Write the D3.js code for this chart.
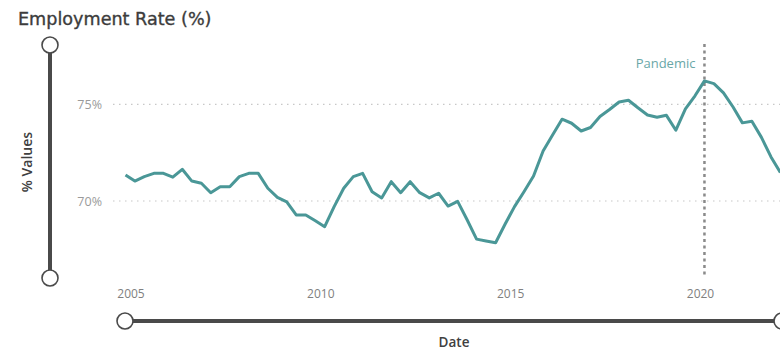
<!DOCTYPE html>
<html>
<head>
<meta charset="utf-8">
<script src="https://cdn.jsdelivr.net/npm/d3@7"></script>
<style>
  html, body { margin: 0; padding: 0; background: #fff; overflow: hidden; }
  svg { display: block; }
</style>
</head>
<body>
<svg id="chart" width="780" height="351"></svg>
<script>
// Quarterly employment rate, starting 2005 Q1
const startYear = 2005;
const rates = [
  71.35, 71.03, 71.26, 71.43, 71.43, 71.23, 71.64, 71.03,
  70.92, 70.43, 70.74, 70.74, 71.26, 71.43, 71.43, 70.66,
  70.19, 69.96, 69.28, 69.28, 68.98, 68.67, 69.71, 70.66,
  71.26, 71.43, 70.48, 70.16, 71.00, 70.43, 71.00, 70.43,
  70.16, 70.40, 69.74, 69.98, 69.02, 68.03, 67.93, 67.84,
  68.81, 69.71, 70.48, 71.29, 72.59, 73.41, 74.23, 74.02,
  73.62, 73.80, 74.37, 74.73, 75.12, 75.21, 74.82, 74.45,
  74.33, 74.43, 73.66, 74.76, 75.44, 76.21, 76.07, 75.59,
  74.86, 74.04, 74.12, 73.29, 72.28, 71.47
];
const yTicks = [70, 75];
const xTickYears = [2005, 2010, 2015, 2020];
const pandemicDate = new Date(2020, 3, 1);
const pandemicLabel = "Pandemic";
const title = "Employment Rate (%)";
const yTitle = "% Values";
const xTitle = "Date";

const data = rates.map((v, i) => ({
  date: new Date(startYear + Math.floor(i / 4), (i % 4) * 3, 1),
  value: v
}));

const svg = d3.select("#chart");
const teal = "#4a9797";
const sliderColor = "#4a4a4a";

const x = d3.scaleTime()
  .domain([new Date(2005, 0, 1), new Date(2020, 0, 1)])
  .range([125.5, 695]);
const y = d3.scaleLinear()
  .domain([70, 75])
  .range([201, 104.3]);

// Title
svg.append("text")
  .attr("x", 18).attr("y", 25)
  .attr("font-family", "'DejaVu Sans', sans-serif")
  .attr("font-size", 17.6)
  .attr("fill", "#3c3c3c")
  .attr("stroke", "#3c3c3c")
  .attr("stroke-width", 0.35)
  .text(title);

// Horizontal gridlines (dotted)
const grid = svg.append("g");
grid.selectAll("line").data(yTicks).join("line")
  .attr("x1", 113).attr("x2", 780)
  .attr("y1", d => y(d)).attr("y2", d => y(d))
  .attr("stroke", "#c8c8c8")
  .attr("stroke-width", 1.2)
  .attr("stroke-dasharray", "1.5,4.5");

// Y axis labels
const yAxis = svg.append("g")
  .attr("transform", "translate(102,0)")
  .call(d3.axisLeft(y).tickValues(yTicks).tickFormat(d => d + "%").tickSize(0).tickPadding(0));
yAxis.select(".domain").remove();
yAxis.selectAll("text")
  .attr("font-family", "'Open Sans', sans-serif")
  .attr("font-size", 12.5)
  .attr("fill", "#9a9a9a");

// X axis labels
const xAxis = svg.append("g")
  .attr("transform", "translate(0,289)")
  .call(d3.axisBottom(x)
    .tickValues(xTickYears.map(yr => new Date(yr, 0, 1)))
    .tickFormat(d3.timeFormat("%Y"))
    .tickSize(0).tickPadding(0));
xAxis.select(".domain").remove();
xAxis.selectAll("text")
  .attr("dx", 5)
  .attr("font-family", "'Open Sans', sans-serif")
  .attr("font-size", 12)
  .attr("fill", "#808080");

// Pandemic marker
svg.append("line")
  .attr("x1", x(pandemicDate)).attr("x2", x(pandemicDate))
  .attr("y1", 44).attr("y2", 276)
  .attr("stroke", "#8a8a8a")
  .attr("stroke-width", 2.5)
  .attr("stroke-dasharray", "3,3.5");
svg.append("text")
  .attr("x", x(pandemicDate) - 9).attr("y", 68)
  .attr("text-anchor", "end")
  .attr("font-family", "'Open Sans', sans-serif")
  .attr("font-size", 13)
  .attr("fill", "#6aa7a7")
  .text(pandemicLabel);

// Data line
svg.append("path")
  .datum(data)
  .attr("fill", "none")
  .attr("stroke", teal)
  .attr("stroke-width", 3)
  .attr("stroke-linejoin", "round")
  .attr("d", d3.line().x(d => x(d.date)).y(d => y(d.value)));

// Vertical range slider
const vs = svg.append("g");
vs.append("line")
  .attr("x1", 50).attr("x2", 50).attr("y1", 45).attr("y2", 278)
  .attr("stroke", sliderColor).attr("stroke-width", 4);
vs.selectAll("circle").data([45, 278]).join("circle")
  .attr("cx", 50).attr("cy", d => d).attr("r", 8)
  .attr("fill", "#fff").attr("stroke", sliderColor).attr("stroke-width", 1.6);

// Horizontal range slider
const hs = svg.append("g");
hs.append("line")
  .attr("x1", 125).attr("x2", 782).attr("y1", 321).attr("y2", 321)
  .attr("stroke", sliderColor).attr("stroke-width", 4);
hs.selectAll("circle").data([125, 782]).join("circle")
  .attr("cx", d => d).attr("cy", 321).attr("r", 8)
  .attr("fill", "#fff").attr("stroke", sliderColor).attr("stroke-width", 1.6);

// Axis titles
svg.append("text")
  .attr("transform", "translate(32,162) rotate(-90)")
  .attr("text-anchor", "middle")
  .attr("font-family", "'Open Sans', sans-serif")
  .attr("font-size", 14)
  .attr("font-weight", 600)
  .attr("fill", "#404040")
  .text(yTitle);
svg.append("text")
  .attr("x", 454).attr("y", 347)
  .attr("text-anchor", "middle")
  .attr("font-family", "'Open Sans', sans-serif")
  .attr("font-size", 13.5)
  .attr("font-weight", 600)
  .attr("fill", "#404040")
  .text(xTitle);
</script>
</body>
</html>
